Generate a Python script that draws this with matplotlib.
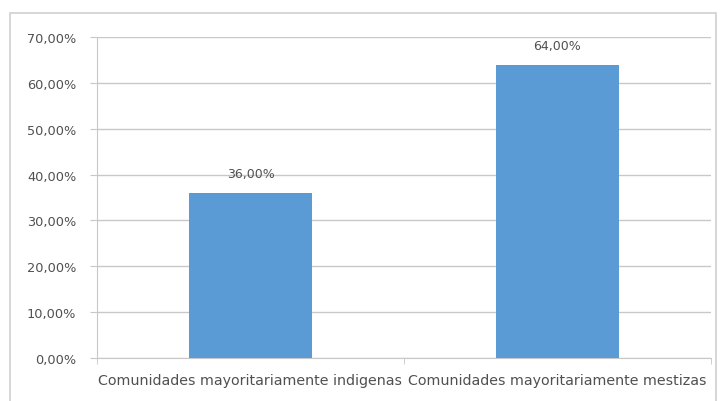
import numpy as np
import matplotlib.pyplot as plt
from matplotlib.patches import Rectangle
from matplotlib.ticker import FuncFormatter

# Datos del grafico
categorias = ['Comunidades mayoritariamente indigenas', 'Comunidades mayoritariamente mestizas']
porcentajes = [36.0, 64.0]
etiquetas = ['36,00%', '64,00%']

plt.rcParams['font.family'] = ['DejaVu Sans']

fig = plt.figure(figsize=(7.22, 4.02), dpi=100)
ax = fig.add_axes([97/722, 1 - 359/402, (711 - 97)/722, (359 - 38)/402])

# marco exterior del grafico
fig.patches.append(Rectangle((10/722, -0.1), (716 - 10)/722, 1.1 - 14/402,
                             transform=fig.transFigure, fill=False,
                             edgecolor='#d0d0d0', linewidth=1.2))

x = np.arange(len(categorias))
ax.bar(x, porcentajes, width=0.4, color='#5b9bd5', zorder=3)
for xi, v, lab in zip(x, porcentajes, etiquetas):
    ax.text(xi, v + 4.2, lab, ha='center', va='center', fontsize=9, color='#505050')

ax.set_xlim(-0.5, 1.5)
ax.set_ylim(0, 70)
ax.set_yticks(np.arange(0, 71, 10))
ax.yaxis.set_major_formatter(FuncFormatter(lambda v, p: ('%.2f%%' % v).replace('.', ',')))
ax.yaxis.grid(True, color='#c8c8c8', linewidth=1, zorder=0)

ax.set_xticks(x)
ax.set_xticklabels(categorias)
ax.set_xticks([-0.5, 0.5, 1.5], minor=True)
ax.tick_params(axis='x', which='major', length=0, pad=11, labelsize=10.3, labelcolor='#505050')
ax.tick_params(axis='x', which='minor', length=4, color='#c8c8c8')
ax.tick_params(axis='y', length=5, color='#c8c8c8', labelsize=9.3, labelcolor='#505050', pad=10)

for s in ['top', 'right']:
    ax.spines[s].set_visible(False)
ax.spines['left'].set_color('#c8c8c8')
ax.spines['bottom'].set_color('#c8c8c8')

fig.savefig('out.png', dpi=100)
